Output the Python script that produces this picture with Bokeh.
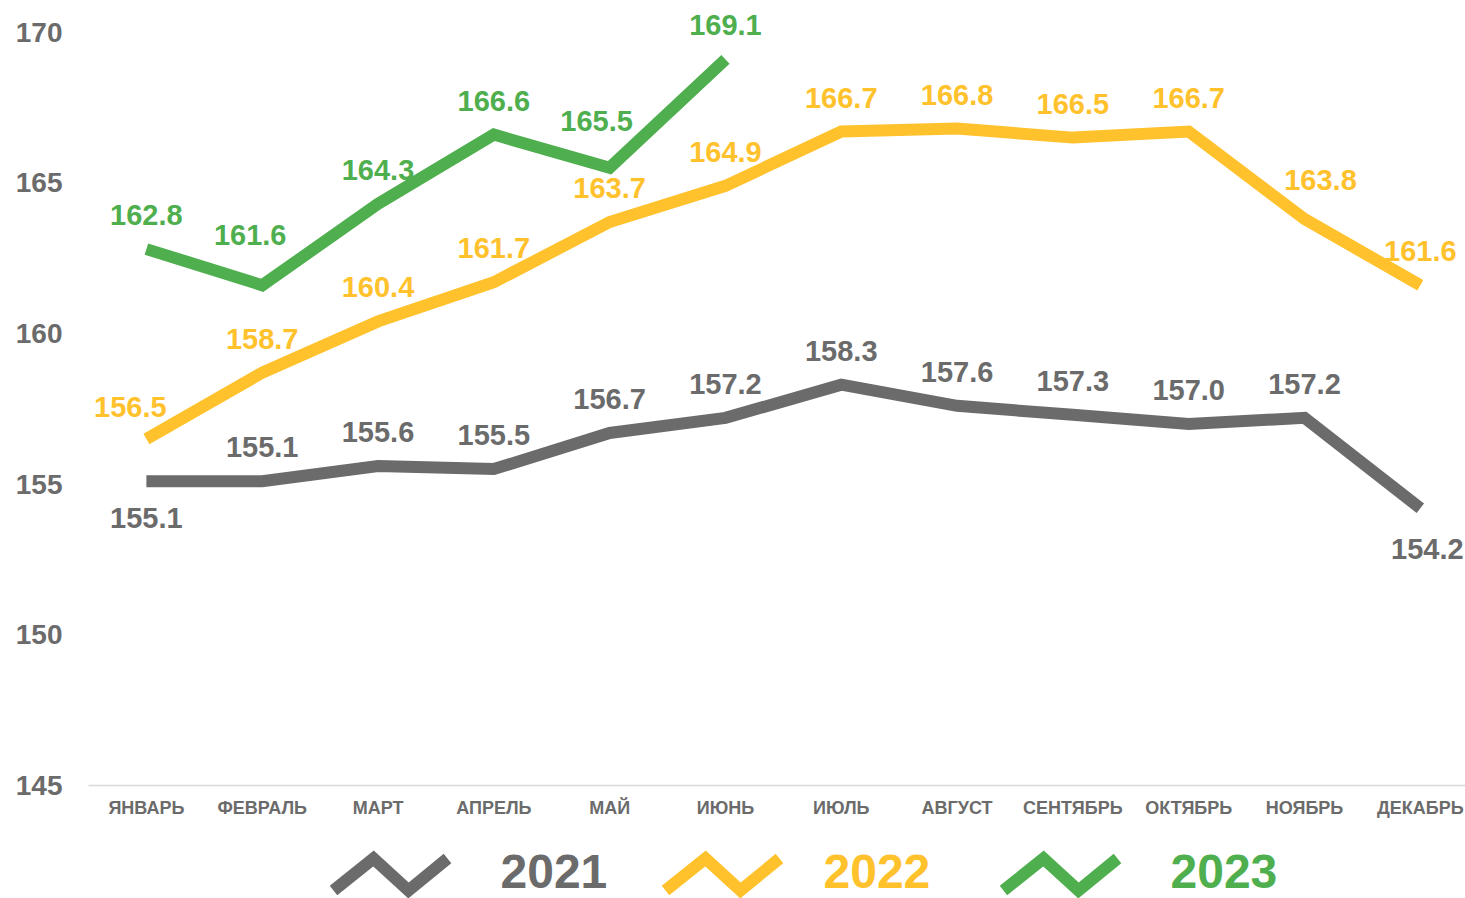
from bokeh.plotting import figure
from bokeh.models import ColumnDataSource, LabelSet, Range1d, FixedTicker
from bokeh.layouts import column
from bokeh.core.properties import value
from bokeh.embed import file_html
from bokeh.resources import INLINE

# ---------------- data ----------------
months = ["ЯНВАРЬ", "ФЕВРАЛЬ", "МАРТ", "АПРЕЛЬ", "МАЙ", "ИЮНЬ",
          "ИЮЛЬ", "АВГУСТ", "СЕНТЯБРЬ", "ОКТЯБРЬ", "НОЯБРЬ", "ДЕКАБРЬ"]
years = ["2021", "2022", "2023"]
values_2021 = [155.1, 155.1, 155.6, 155.5, 156.7, 157.2, 158.3, 157.6, 157.3, 157.0, 157.2, 154.2]
values_2022 = [156.5, 158.7, 160.4, 161.7, 163.7, 164.9, 166.7, 166.8, 166.5, 166.7, 163.8, 161.6]
values_2023 = [162.8, 161.6, 164.3, 166.6, 165.5, 169.1]
y_ticks = [145, 150, 155, 160, 165, 170]

# ---------------- style ----------------
FONT = value("Liberation Sans")
COLORS = {"2021": "#6b6b6b", "2022": "#ffc22d", "2023": "#4faf4f"}
SERIES = {"2021": values_2021, "2022": values_2022, "2023": values_2023}
LINE_W = 12
DEFAULT_DY = 34
# label placement tweaks (screen px): (series, index) -> (dx, dy)
LABEL_TWEAKS = {
    ("2021", 0): (0, -37),
    ("2021", 11): (7, -41),
    ("2022", 0): (-16, 32),
    ("2022", 10): (16, 39),
    ("2023", 1): (-12, 50),
    ("2023", 4): (-13, 47),
}

W = 1465
MAIN_H = 820
LEG_H = 78
FRAME_L = 88

p = figure(width=W, height=MAIN_H, output_backend="svg", toolbar_location=None,
           x_range=Range1d(-0.5, 11.39), y_range=Range1d(145, 171.05),
           min_border_left=FRAME_L, min_border_right=0, min_border_top=0, min_border_bottom=35)
p.outline_line_color = None
p.background_fill_color = "white"
p.xgrid.visible = False
p.ygrid.visible = False

# lines
for yr in years:
    vals = SERIES[yr]
    src = ColumnDataSource(dict(x=list(range(len(vals))), y=vals))
    p.line("x", "y", source=src, line_color=COLORS[yr], line_width=LINE_W,
           line_join="miter", line_cap="butt")

# labels
for yr in years:
    vals = SERIES[yr]
    xs = list(range(len(vals)))
    dxs = [LABEL_TWEAKS.get((yr, i), (0, DEFAULT_DY))[0] for i in xs]
    dys = [LABEL_TWEAKS.get((yr, i), (0, DEFAULT_DY))[1] for i in xs]
    src = ColumnDataSource(dict(x=xs, y=vals, t=[f"{v:.1f}" for v in vals], dx=dxs, dy=dys))
    lab = LabelSet(x="x", y="y", text="t", source=src, x_offset="dx", y_offset="dy",
                   text_font=FONT, text_font_style="bold", text_font_size="29px",
                   text_color=COLORS[yr], text_align="center", text_baseline="middle")
    p.add_layout(lab)

# axes
xa = p.xaxis[0]
xa.ticker = FixedTicker(ticks=list(range(len(months))))
xa.major_label_overrides = {i: m for i, m in enumerate(months)}
xa.axis_line_color = "#d9d9d9"
xa.axis_line_width = 1.5
xa.major_tick_line_color = None
xa.minor_tick_line_color = None
xa.major_tick_out = 0
xa.major_tick_in = 0
xa.major_label_standoff = 12
xa.major_label_text_font = "Liberation Sans"
xa.major_label_text_font_style = "bold"
xa.major_label_text_font_size = "18px"
xa.major_label_text_color = "#6b6b6b"

ya = p.yaxis[0]
ya.ticker = FixedTicker(ticks=y_ticks)
ya.axis_line_color = None
ya.major_tick_line_color = None
ya.minor_tick_line_color = None
ya.major_tick_out = 0
ya.major_tick_in = 0
ya.major_label_standoff = 26
ya.major_label_text_font = "Liberation Sans"
ya.major_label_text_font_style = "bold"
ya.major_label_text_font_size = "28px"
ya.major_label_text_color = "#6b6b6b"

# ---------------- legend (zigzag icons + year text) ----------------
# legend coordinates are page pixels: x to the right, y measured up from the bottom
leg = figure(width=W, height=LEG_H, output_backend="svg", toolbar_location=None,
             x_range=Range1d(FRAME_L, W), y_range=Range1d(0, LEG_H),
             min_border_left=FRAME_L, min_border_right=0, min_border_top=0, min_border_bottom=0)
leg.axis.visible = False
leg.grid.visible = False
leg.outline_line_color = None

ICON_DX = [0, 40, 75, 114]
ICON_SHAPE = [0, 1, 0, 1]
ICON_BASE, ICON_H = 8, 32
LEGEND_ICON_X = [333, 665, 1003]
LEGEND_TEXT_X = [500, 823, 1170]
LEGEND_TEXT_Y = 27

for yr, x0, tx in zip(years, LEGEND_ICON_X, LEGEND_TEXT_X):
    leg.line([x0 + d for d in ICON_DX], [ICON_BASE + s * ICON_H for s in ICON_SHAPE],
             line_color=COLORS[yr], line_width=LINE_W, line_join="miter", line_cap="butt")
    leg.text(x=[tx], y=[LEGEND_TEXT_Y], text=[yr],
             text_font=FONT, text_font_style="bold", text_font_size="48px",
             text_color=COLORS[yr], text_align="left", text_baseline="middle")

layout = column(p, leg, spacing=0)
open("out.html", "w").write(file_html(layout, INLINE))
